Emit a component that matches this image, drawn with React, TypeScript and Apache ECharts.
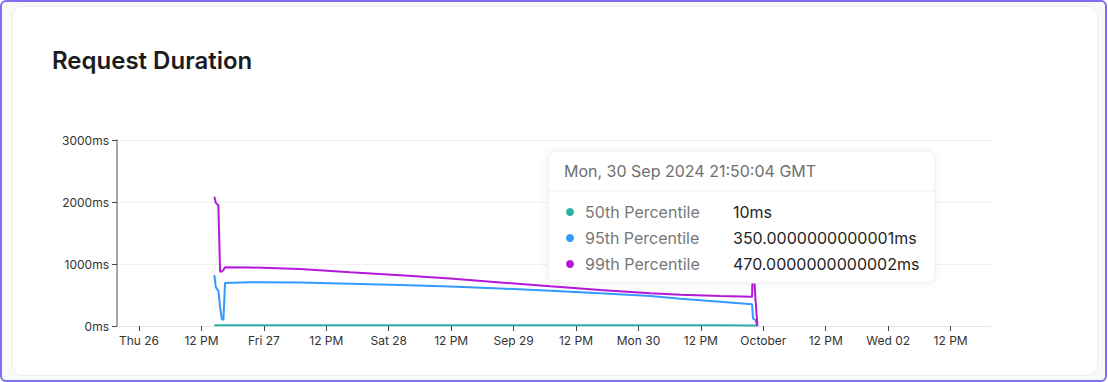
import React, { useEffect, useRef } from "react";
import * as echarts from "echarts";

const TITLE = "Request Duration";
const SERIES_NAMES = ["50th Percentile", "95th Percentile", "99th Percentile"];
const SERIES_COLORS = ["#2bb3a6", "#3399ff", "#b518d9"];

const TIMES = [
  "2024-09-26T14:29:00Z",
  "2024-09-26T14:45:00Z",
  "2024-09-26T14:57:00Z",
  "2024-09-26T15:15:00Z",
  "2024-09-26T15:27:00Z",
  "2024-09-26T15:35:00Z",
  "2024-09-26T15:55:00Z",
  "2024-09-26T16:13:00Z",
  "2024-09-26T16:32:00Z",
  "2024-09-26T21:21:00Z",
  "2024-09-27T06:58:00Z",
  "2024-09-27T16:35:00Z",
  "2024-09-28T02:12:00Z",
  "2024-09-28T11:49:00Z",
  "2024-09-28T21:26:00Z",
  "2024-09-29T07:03:00Z",
  "2024-09-29T16:40:00Z",
  "2024-09-30T02:17:00Z",
  "2024-09-30T08:04:00Z",
  "2024-09-30T15:45:00Z",
  "2024-09-30T21:50:04Z",
  "2024-09-30T22:01:00Z",
  "2024-09-30T22:29:00Z",
  "2024-09-30T22:52:00Z",
];

const P50 = [12, 12, 12, 12, 12, 12, 12, 12, 12, 12, 12, 12, 12, 12, 12, 12, 12, 12, 12, 12, 10, 10, 10, 0];
const P95 = [820, 634, 600, 570, 420, 300, 110, 97, 695, 705, 702, 682, 662, 638, 606, 568, 527, 482, 438, 392, 350.0000000000001, 124, 97, 0];
const P99 = [2085, 1990, 1968, 1950, 1300, 876, 880, 903, 946, 944, 918, 868, 820, 765, 702, 640, 580, 530, 503, 482, 470.0000000000002, 1100, 450, 0];

const X_MIN = "2024-09-25T19:46:00Z";
const X_MAX = "2024-10-02T19:46:00Z";
const X_TICKS = [
  "2024-09-26T00:00:00Z",
  "2024-09-26T12:00:00Z",
  "2024-09-27T00:00:00Z",
  "2024-09-27T12:00:00Z",
  "2024-09-28T00:00:00Z",
  "2024-09-28T12:00:00Z",
  "2024-09-29T00:00:00Z",
  "2024-09-29T12:00:00Z",
  "2024-09-30T00:00:00Z",
  "2024-09-30T12:00:00Z",
  "2024-10-01T00:00:00Z",
  "2024-10-01T12:00:00Z",
  "2024-10-02T00:00:00Z",
  "2024-10-02T12:00:00Z",
];
const Y_MAX = 3000;
const Y_STEP = 1000;
const TOOLTIP_INDEX = 20;

const DAYS = ["Sun", "Mon", "Tue", "Wed", "Thu", "Fri", "Sat"];
const MONTHS_SHORT = ["Jan", "Feb", "Mar", "Apr", "May", "Jun", "Jul", "Aug", "Sep", "Oct", "Nov", "Dec"];
const MONTHS_LONG = ["January", "February", "March", "April", "May", "June", "July", "August", "September", "October", "November", "December"];

function fmtTick(v: number): string {
  const d = new Date(v);
  const h = d.getUTCHours();
  const dd = String(d.getUTCDate()).padStart(2, "0");
  if (h !== 0) return `${h % 12 || 12} ${h < 12 ? "AM" : "PM"}`;
  if (d.getUTCDate() === 1) return MONTHS_LONG[d.getUTCMonth()];
  if (d.getUTCDay() === 0) return `${MONTHS_SHORT[d.getUTCMonth()]} ${dd}`;
  return `${DAYS[d.getUTCDay()]} ${dd}`;
}

const FONT = "Inter, 'Noto Sans', sans-serif";

export default function App() {
  const ref = useRef<HTMLDivElement>(null);
  useEffect(() => {
    if (!ref.current) return;
    const chart = echarts.init(ref.current, null, { renderer: "svg" });
    const allSeries = [P50, P95, P99];
    const tips = allSeries.map((s) => `${s[TOOLTIP_INDEX]}ms`);
    const header = new Date(TIMES[TOOLTIP_INDEX]).toUTCString();
    const tipX = 548;
    const tipY = 151;
    const rowYs = [212, 238, 264];
    const Z = 100;
    const tipChildren: any[] = [
      {
        type: "rect",
        z: Z,
        shape: { x: tipX, y: tipY, width: 387, height: 132, r: 8 },
        style: {
          fill: "#ffffff",
          stroke: "#ededed",
          lineWidth: 1,
          shadowBlur: 10,
          shadowColor: "rgba(0,0,0,0.06)",
        },
      },
      {
        type: "line",
        z: Z + 1,
        shape: { x1: tipX, y1: 191, x2: tipX + 387, y2: 191 },
        style: { stroke: "#eeeeee", lineWidth: 1 },
      },
      {
        type: "text",
        z: Z + 1,
        x: 564,
        y: 171,
        style: {
          text: header,
          fill: "#6f6f6f",
          font: `400 16px ${FONT}`,
          textVerticalAlign: "middle",
        },
      },
    ];
    SERIES_NAMES.forEach((name, i) => {
      tipChildren.push({
        type: "circle",
        z: Z + 1,
        shape: { cx: 570, cy: rowYs[i], r: 4 },
        style: { fill: SERIES_COLORS[i] },
      });
      tipChildren.push({
        type: "text",
        z: Z + 1,
        x: 585,
        y: rowYs[i],
        style: { text: name, fill: "#777777", font: `400 16px ${FONT}`, textVerticalAlign: "middle" },
      });
      tipChildren.push({
        type: "text",
        z: Z + 1,
        x: 733,
        y: rowYs[i],
        style: { text: tips[i], fill: "#1f1f1f", font: `400 16px ${FONT}`, textVerticalAlign: "middle" },
      });
    });

    const tickVals = X_TICKS.map((t) => Date.parse(t));

    chart.setOption({
      animation: false,
      title: {
        text: TITLE,
        left: 52,
        top: 48,
        padding: 0,
        textStyle: { fontFamily: FONT, fontSize: 24, fontWeight: 600, color: "#1c1c1c" },
      },
      grid: { left: 117, right: 117, top: 140, bottom: 56, containLabel: false },
      xAxis: {
        type: "value",
        min: Date.parse(X_MIN),
        max: Date.parse(X_MAX),
        axisLine: { show: true, onZero: false, lineStyle: { color: "#e6e6e6", width: 1 } },
        axisTick: {
          show: true,
          length: 5,
          lineStyle: { color: "#444", width: 1 },
          customValues: tickVals,
        },
        axisLabel: {
          color: "#333",
          fontSize: 12,
          fontFamily: FONT,
          margin: 8,
          hideOverlap: false,
          showMinLabel: true,
          showMaxLabel: true,
          customValues: tickVals,
          formatter: (v: number) => fmtTick(v),
        },
        splitLine: { show: false },
      },
      yAxis: {
        type: "value",
        min: 0,
        max: Y_MAX,
        interval: Y_STEP,
        axisLine: { show: true, lineStyle: { color: "#8a8a8a", width: 1.5 } },
        axisTick: { show: true, length: 5, lineStyle: { color: "#444", width: 1 } },
        axisLabel: {
          color: "#333",
          fontSize: 12,
          fontFamily: FONT,
          margin: 8,
          formatter: (v: number) => `${v}ms`,
        },
        splitLine: { show: true, lineStyle: { color: "#f0f0f0", width: 1 } },
      },
      series: allSeries.map((s, i) => ({
        name: SERIES_NAMES[i],
        type: "line",
        showSymbol: false,
        symbol: "none",
        data: TIMES.map((t, j) => [Date.parse(t), s[j]]),
        lineStyle: { color: SERIES_COLORS[i], width: 2 },
        itemStyle: { color: SERIES_COLORS[i] },
        z: 2 + i,
      })),
      graphic: [{ type: "group", z: Z, children: tipChildren }],
    });
    return () => chart.dispose();
  }, []);

  return (
    <div style={{ position: "fixed", left: 0, top: 0, width: 1108, height: 382, background: "#ffffff" }}>
      <div
        style={{
          position: "absolute",
          left: 0,
          top: 0,
          width: 1107,
          height: 382,
          boxSizing: "border-box",
          border: "2px solid #7d6ef2",
          borderRadius: 6,
          background: "#f9f9f9",
        }}
      />
      <div
        style={{
          position: "absolute",
          left: 12,
          top: 6,
          width: 1086,
          height: 370,
          boxSizing: "border-box",
          border: "1px solid #eeeeee",
          borderRadius: 10,
          background: "#ffffff",
        }}
      />
      <div ref={ref} style={{ position: "absolute", left: 0, top: 0, width: 1108, height: 382 }} />
    </div>
  );
}
